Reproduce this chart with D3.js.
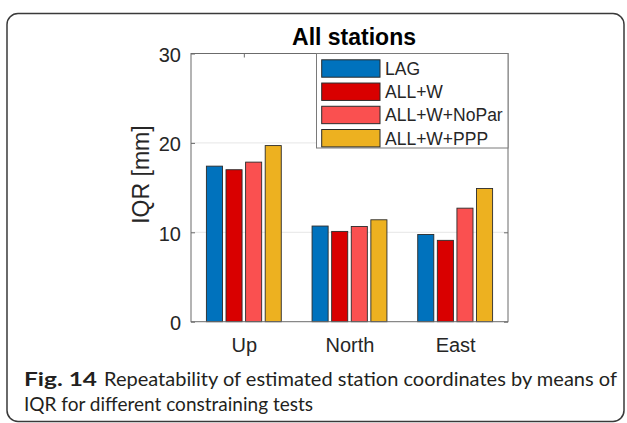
<!DOCTYPE html>
<html>
<head>
<meta charset="utf-8">
<script src="https://cdn.jsdelivr.net/npm/d3@7"></script>
<style>
  html, body { margin: 0; padding: 0; background: #fff; }
  svg { display: block; }
</style>
</head>
<body>
<svg id="chart" width="627" height="423"></svg>
<script>
// ---- data ----
const categories = ["Up", "North", "East"];
const seriesNames = ["LAG", "ALL+W", "ALL+W+NoPar", "ALL+W+PPP"];
const seriesColors = ["#0072BD", "#D90000", "#FA5050", "#EDB120"];
const valuesLAG = [17.4, 10.7, 9.75];
const valuesALLW = [17.0, 10.1, 9.1];
const valuesNoPar = [17.85, 10.65, 12.7];
const valuesPPP = [19.7, 11.4, 14.9];
const yTicks = [0, 10, 20, 30];
const titleText = "All stations";
const yLabelText = "IQR [mm]";
const captionBold = "Fig. 14";
const captionLine1 = "Repeatability of estimated station coordinates by means of";
const captionLine2 = "IQR for different constraining tests";

const seriesValues = [valuesLAG, valuesALLW, valuesNoPar, valuesPPP];

const svg = d3.select("#chart");
const font = "'Liberation Sans', Arial, sans-serif";

// card
svg.append("rect")
  .attr("x", 7).attr("y", 13.5).attr("width", 617).attr("height", 408)
  .attr("rx", 11).attr("ry", 11)
  .attr("fill", "#fff").attr("stroke", "#3a3a3a").attr("stroke-width", 1.5);

// plot area
const L = 191, R = 508, T = 53.5, B = 321.7;
const x = d3.scaleBand().domain(categories).range([L, R]).paddingInner(0).paddingOuter(0);
const xi = d3.scaleBand().domain(seriesNames).range([-39.2, 39.2]).paddingInner(0.18).paddingOuter(0.09);
const y = d3.scaleLinear().domain([0, 30]).range([B, T]);

// grid
svg.append("g").selectAll("line").data(yTicks.filter(t => t > 0 && t < 30)).join("line")
  .attr("x1", L).attr("x2", R).attr("y1", d => y(d)).attr("y2", d => y(d))
  .attr("stroke", "#e6e6e6").attr("stroke-width", 1);

// bars
const barData = [];
categories.forEach((c, ci) => seriesNames.forEach((s, si) => barData.push({c, s, si, v: seriesValues[si][ci]})));
svg.append("g").selectAll("rect").data(barData).join("rect")
  .attr("x", d => x(d.c) + x.bandwidth() / 2 + xi(d.s))
  .attr("width", xi.bandwidth())
  .attr("y", d => y(d.v))
  .attr("height", d => y(0) - y(d.v))
  .attr("fill", d => seriesColors[d.si])
  .attr("stroke", "#2b2b2b").attr("stroke-width", 0.9);

// axes (box with inside ticks)
const axisColor = "#6b6b6b";
const gl = svg.append("g").attr("transform", `translate(${L},0)`)
  .call(d3.axisLeft(y).tickValues(yTicks).tickSize(-4).tickPadding(10));
const gr = svg.append("g").attr("transform", `translate(${R},0)`)
  .call(d3.axisRight(y).tickValues(yTicks).tickSize(-4).tickFormat(""));
const xc = d3.scalePoint().domain(categories).range([x(categories[0]) + x.bandwidth()/2, x(categories[2]) + x.bandwidth()/2]);
const gb = svg.append("g").attr("transform", `translate(0,${B})`)
  .call(d3.axisBottom(xc).tickSize(-4).tickPadding(16));
const gt = svg.append("g").attr("transform", `translate(0,${T})`)
  .call(d3.axisTop(xc).tickSize(-4).tickFormat(""));
[gl, gr, gb, gt].forEach(g => {
  g.select(".domain").remove();
  g.selectAll(".tick line").attr("stroke", axisColor);
  g.selectAll("text").attr("fill", "#262626").style("font-family", font).style("font-size", "20px");
});
gb.selectAll(".tick line").attr("stroke", "none");
gl.selectAll(".tick text").attr("dy", "0.4em");
gb.selectAll(".tick text").attr("dy", "0.71em");
svg.append("rect").attr("x", L).attr("y", T).attr("width", R - L).attr("height", B - T)
  .attr("fill", "none").attr("stroke", axisColor).attr("stroke-width", 1);

// title
svg.append("text").attr("x", 354).attr("y", 45).attr("text-anchor", "middle")
  .style("font-family", font).style("font-size", "23px").style("font-weight", "bold")
  .attr("fill", "#000").text(titleText);

// y label
svg.append("text").attr("transform", `translate(149,${(T + B) / 2 - 13}) rotate(-90)`)
  .attr("text-anchor", "middle")
  .style("font-family", font).style("font-size", "23px").attr("fill", "#262626")
  .text(yLabelText);

// legend
const lg = svg.append("g");
lg.append("rect").attr("x", 316.5).attr("y", T).attr("width", R - 316.5).attr("height", 94.5)
  .attr("fill", "#fff").attr("stroke", "#7a7a7a").attr("stroke-width", 1);
const ly = d3.scalePoint().domain(seriesNames).range([68.5, 138.2]);
lg.selectAll("rect.sw").data(seriesNames).join("rect").attr("class", "sw")
  .attr("x", 321.7).attr("y", d => ly(d) - 8.7).attr("width", 58.3).attr("height", 17.4)
  .attr("fill", (d, i) => seriesColors[i]).attr("stroke", "#2b2b2b").attr("stroke-width", 1);
lg.selectAll("text").data(seriesNames).join("text")
  .attr("x", 385).attr("y", d => ly(d)).attr("dy", "0.36em")
  .style("font-family", font).style("font-size", "17.5px").attr("fill", "#262626")
  .text(d => d);

// caption
const capFont = "Lato, 'Open Sans', sans-serif";
const cap = svg.append("g").attr("fill", "#231f20");
cap.append("text").attr("x", 24).attr("y", 386)
  .style("font-family", capFont).style("font-size", "19px").style("font-weight", "bold")
  .attr("textLength", 73).attr("lengthAdjust", "spacingAndGlyphs").text(captionBold);
cap.append("text").attr("x", 104).attr("y", 386)
  .style("font-family", capFont).style("font-size", "19px")
  .attr("textLength", 513).attr("lengthAdjust", "spacingAndGlyphs").text(captionLine1);
cap.append("text").attr("x", 24).attr("y", 411)
  .style("font-family", capFont).style("font-size", "19px")
  .attr("textLength", 289).attr("lengthAdjust", "spacingAndGlyphs").text(captionLine2);
</script>
</body>
</html>
